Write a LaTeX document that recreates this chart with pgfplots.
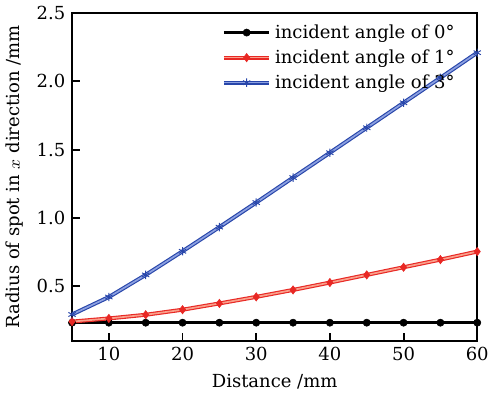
\documentclass[border=0pt]{standalone}
\usepackage{pgfplots}
\pgfplotsset{compat=1.18}
\usepackage{fontspec}
\setmainfont{DejaVu Serif}
\definecolor{myred}{RGB}{232,40,36}
\definecolor{myredlt}{RGB}{250,160,140}
\definecolor{myblue}{RGB}{40,70,170}
\definecolor{mybluelt}{RGB}{140,160,225}
\begin{document}
\begin{tikzpicture}
\begin{axis}[
    scale only axis,
    width=214pt, height=173pt,
    xmin=5, xmax=60,
    ymin=0.1, ymax=2.5,
    xtick={10,20,30,40,50,60},
    ytick={0.5,1.0,1.5,2.0,2.5},
    yticklabel style={/pgf/number format/.cd, fixed, fixed zerofill, precision=1},
    /pgf/number format/assume math mode=true,
    tick align=inside,
    xtick pos=bottom, ytick pos=left,
    major tick length=4pt,
    axis line style={line width=1.1pt},
    every tick/.style={line width=1pt, black},
    tick label style={font=\fontsize{9.5}{11}\selectfont},
    label style={font=\fontsize{9.5}{11}\selectfont},
    xlabel={Distance /mm},
    ylabel={Radius of spot in $x$ direction /mm},
    legend style={at={(0.355,0.99)}, anchor=north west, draw=none, fill=none,
        font=\fontsize{9.5}{11}\selectfont, row sep=0.5pt},
    legend cell align=left,
    legend image code/.code={\draw[mark repeat=2, mark phase=2, #1] plot coordinates {(0pt,0pt) (12pt,0pt) (24pt,0pt)};},
]
\addplot[black, line width=1.5pt, mark=*, mark size=1.9pt, mark options={solid, line width=0.3pt}] coordinates {
(5,0.232) (10,0.232) (15,0.232) (20,0.232) (25,0.232) (30,0.232)
(35,0.232) (40,0.232) (45,0.232) (50,0.232) (55,0.232) (60,0.232)
};
\addlegendentry{incident angle of 0°}
\addplot[myred, double=myredlt, double distance=0.9pt, line width=0.6pt,
    mark=diamond*, mark size=2.2pt, mark options={fill=myred, draw=myred, line width=0.3pt}] coordinates {
(5,0.240) (10,0.263) (15,0.290) (20,0.327) (25,0.373) (30,0.421)
(35,0.472) (40,0.526) (45,0.582) (50,0.638) (55,0.694) (60,0.753)
};
\addlegendentry{incident angle of 1°}
\addplot[myblue, double=mybluelt, double distance=0.9pt, line width=0.6pt,
    mark=asterisk, mark size=2.2pt, mark options={draw=myblue, line width=0.5pt}] coordinates {
(5,0.292) (10,0.420) (15,0.582) (20,0.755) (25,0.932) (30,1.112)
(35,1.295) (40,1.477) (45,1.660) (50,1.843) (55,2.026) (60,2.210)
};
\addlegendentry{incident angle of 3°}
\end{axis}
\end{tikzpicture}
\end{document}
